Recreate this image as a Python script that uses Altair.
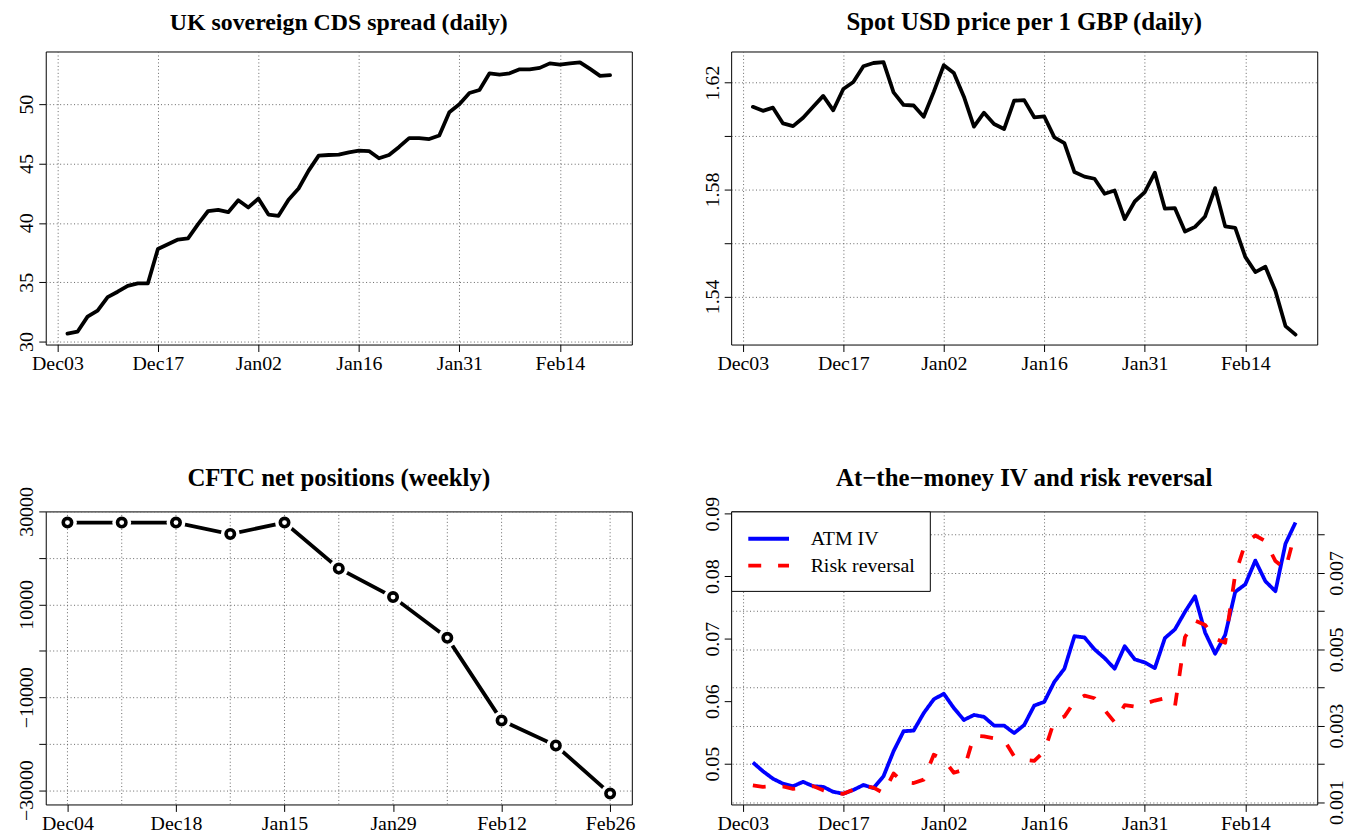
import altair as alt
import pandas as pd

# ---------------- data ----------------
daily_ticks = [0, 10, 20, 30, 40, 50]
daily_tick_labels = ["Dec03", "Dec17", "Jan02", "Jan16", "Jan31", "Feb14"]
weekly_ticks = [0, 2, 4, 6, 8, 10]
weekly_tick_labels = ["Dec04", "Dec18", "Jan15", "Jan29", "Feb12", "Feb26"]

cds_spread = [30.67, 30.83, 32.1, 32.6, 33.75, 34.2, 34.7, 34.9, 34.9, 37.8,
              38.2, 38.6, 38.7, 39.9, 41.0, 41.1, 40.9, 41.9, 41.3, 42.05,
              40.7, 40.6, 41.95, 42.9, 44.4, 45.67, 45.72, 45.75, 45.94, 46.08,
              46.05, 45.44, 45.72, 46.4, 47.14, 47.14, 47.06, 47.36, 49.33, 50.0,
              50.94, 51.2, 52.6, 52.5, 52.6, 52.94, 52.94, 53.06, 53.44, 53.33,
              53.44, 53.53, 52.97, 52.39, 52.44]

gbp_usd = [1.6109, 1.6094, 1.6106, 1.6047, 1.6037, 1.6068, 1.6109, 1.6150, 1.6096, 1.6176,
           1.6202, 1.6261, 1.6273, 1.6276, 1.6163, 1.6116, 1.6114, 1.6072, 1.6165, 1.6265,
           1.6236, 1.6147, 1.6035, 1.6087, 1.6045, 1.6026, 1.6132, 1.6134, 1.6070, 1.6073,
           1.5995, 1.5973, 1.5865, 1.5848, 1.5840, 1.5784, 1.5796, 1.5689, 1.5755, 1.5790,
           1.5863, 1.5728, 1.5730, 1.5643, 1.5660, 1.5699, 1.5805, 1.5662, 1.5656, 1.5548,
           1.5491, 1.5511, 1.5420, 1.5289, 1.5257]

cftc_net = [27600, 27600, 27600, 25140, 27600, 17710, 11560, 2780, -14990, -20400, -30750]

atm_iv = [0.0502, 0.0488, 0.0476, 0.0468, 0.0464, 0.0471, 0.0464, 0.0463, 0.0455, 0.0452,
          0.0458, 0.0466, 0.0461, 0.0480, 0.0520, 0.0552, 0.0553, 0.0581, 0.0603, 0.0612,
          0.0589, 0.0570, 0.0578, 0.0575, 0.0561, 0.0561, 0.0549, 0.0562, 0.0593, 0.0599,
          0.0631, 0.0652, 0.0704, 0.0702, 0.0683, 0.0669, 0.0652, 0.0688, 0.0667, 0.0662,
          0.0653, 0.0701, 0.0715, 0.0743, 0.0768, 0.0710, 0.0676, 0.0706, 0.0775, 0.0787,
          0.0825, 0.0792, 0.0776, 0.0852, 0.0886]

risk_reversal = [0.00144, 0.00140, 0.00142, 0.00141, 0.00135, 0.00137, 0.00142, 0.00131, 0.00124, 0.00122,
                 0.00133, 0.00142, 0.00138, 0.00124, 0.00175, 0.00152, 0.00150, 0.00159, 0.00224, 0.00211,
                 0.00177, 0.00185, 0.00274, 0.00272, 0.00267, 0.00263, 0.00220, 0.00211, 0.00208, 0.00233,
                 0.00313, 0.00324, 0.00363, 0.00379, 0.00372, 0.00341, 0.00309, 0.00354, 0.00350, 0.00358,
                 0.00366, 0.00372, 0.00350, 0.00532, 0.00575, 0.00564, 0.00528, 0.00517, 0.00697, 0.00777,
                 0.00798, 0.00783, 0.00731, 0.00710, 0.00809]

series_names = ["ATM IV", "Risk reversal"]
series_colors = ["#0000ff", "#ff0000"]

cds_ticks = [30, 35, 40, 45, 50]
fx_ticks = [1.54, 1.56, 1.58, 1.60, 1.62]
cftc_ticks = [-30000, -20000, -10000, 0, 10000, 20000, 30000]
iv_ticks = [0.05, 0.06, 0.07, 0.08, 0.09]
rr_ticks = [0.001, 0.002, 0.003, 0.004, 0.005, 0.006, 0.007, 0.008]

daily_idx = list(range(1, len(cds_spread) + 1))
weekly_idx = list(range(len(cftc_net)))

# ---------------- styling ----------------
W, H = 590, 295
FONT = "Liberation Serif"
GRID_DASH = [1, 2.5]
GRID_COLOR = "#666666"
LW = 3.8


def label_expr(labels, step):
    arr = "[" + ",".join("'%s'" % s for s in labels) + "]"
    return "%s[round(datum.value/%d)]" % (arr, step)


daily_expr = label_expr(daily_tick_labels, daily_ticks[1] - daily_ticks[0])
weekly_expr = label_expr(weekly_tick_labels, weekly_ticks[1] - weekly_ticks[0])

x_daily = alt.Scale(domain=[-1.16, 57.16], nice=False, zero=False)
x_weekly = alt.Scale(domain=[-0.4, 10.4], nice=False, zero=False)


def left_axis(values, expr=None, fmt=None, grid=True):
    kw = dict(values=values, orient="left", labelAngle=270, labelAlign="center",
              labelBaseline="bottom", grid=grid)
    if expr is not None:
        kw["labelExpr"] = expr
    if fmt is not None:
        kw["format"] = fmt
    return alt.Axis(**kw)


def title(text, offset, size=24):
    return alt.TitleParams(text=text, font=FONT, fontSize=size, fontWeight="bold",
                           color="black", offset=offset, anchor="middle", frame="group")


# Panel 1: CDS spread
df_cds = pd.DataFrame({"idx": daily_idx, "v": cds_spread})
p1 = alt.Chart(df_cds, title=title("UK sovereign CDS spread (daily)", 17)).mark_line(
    color="black", strokeWidth=LW, strokeJoin="round", strokeCap="round"
).encode(
    x=alt.X("idx:Q", scale=x_daily, title=None,
            axis=alt.Axis(values=daily_ticks, labelExpr=daily_expr, grid=True)),
    y=alt.Y("v:Q", scale=alt.Scale(domain=[29.75, 54.44], nice=False, zero=False), title=None,
            axis=left_axis(cds_ticks, fmt="d")),
).properties(width=W, height=H)

# Panel 2: GBPUSD
df_fx = pd.DataFrame({"idx": daily_idx, "v": gbp_usd})
p2 = alt.Chart(df_fx, title=title("Spot USD price per 1 GBP (daily)", 17, 25)).mark_line(
    color="black", strokeWidth=LW, strokeJoin="round", strokeCap="round"
).encode(
    x=alt.X("idx:Q", scale=x_daily, title=None,
            axis=alt.Axis(values=daily_ticks, labelExpr=daily_expr, grid=True)),
    y=alt.Y("v:Q", scale=alt.Scale(domain=[1.522, 1.6316], nice=False, zero=False), title=None,
            axis=left_axis(fx_ticks,
                           expr="round(datum.value*100) % 4 == 2 ? format(datum.value, '.2f') : ''")),
).properties(width=W, height=H)

# Panel 3: CFTC
df_cftc = pd.DataFrame({"idx": weekly_idx, "v": cftc_net})
x3 = alt.X("idx:Q", scale=x_weekly, title=None,
           axis=alt.Axis(values=weekly_ticks, labelExpr=weekly_expr, grid=False))
y3 = alt.Y("v:Q", scale=alt.Scale(domain=[-33084, 30000], nice=False, zero=False), title=None,
           axis=left_axis(cftc_ticks,
                          expr="abs(datum.value) % 20000 == 10000 ? format(datum.value, 'd') : ''"))
base3 = alt.Chart(df_cftc)
line3 = base3.mark_line(color="black", strokeWidth=LW).encode(x=x3, y=y3)
mask3 = base3.mark_point(shape="circle", filled=True, color="white", opacity=1, size=360).encode(x=x3, y=y3)
vgrid3 = base3.mark_rule(color=GRID_COLOR, strokeDash=GRID_DASH, strokeWidth=1).encode(x=x3)
ring3 = base3.mark_point(shape="circle", filled=False, stroke="black", fill="white", fillOpacity=1,
                         strokeWidth=3.6, size=72, opacity=1).encode(x=x3, y=y3)
p3 = alt.layer(line3, mask3, vgrid3, ring3, title=title("CFTC net positions (weekly)", -4, 25)).properties(
    width=W, height=H)

# Panel 4: ATM IV and risk reversal
df_iv = pd.DataFrame({"idx": daily_idx, "v": atm_iv, "series": series_names[0]})
df_rr = pd.DataFrame({"idx": daily_idx, "v": risk_reversal, "series": series_names[1]})
leg = alt.Legend(title=None, orient="top-left", offset=0, strokeColor="black", fillColor="white",
                 padding=15, labelFont=FONT, labelFontSize=20, labelColor="black",
                 symbolType="M-1,0H3", symbolSize=420, symbolStrokeWidth=LW, labelOffset=40,
                 rowPadding=4, cornerRadius=0)
color4 = alt.Color("series:N", scale=alt.Scale(domain=series_names, range=series_colors), legend=leg)
dash4 = alt.StrokeDash("series:N", scale=alt.Scale(domain=series_names, range=[[1, 0], [13, 17]]),
                       legend=leg)
x4 = alt.X("idx:Q", scale=x_daily, title=None,
           axis=alt.Axis(values=daily_ticks, labelExpr=daily_expr, grid=True))
iv_line = alt.Chart(df_iv).mark_line(strokeWidth=LW, strokeJoin="round").encode(
    x=x4,
    y=alt.Y("v:Q", scale=alt.Scale(domain=[0.04348, 0.09037], nice=False, zero=False), title=None,
            axis=left_axis(iv_ticks, fmt=".2f", grid=False)),
    color=color4, strokeDash=dash4,
)
rr_line = alt.Chart(df_rr).mark_line(strokeWidth=LW, strokeJoin="round", strokeCap="butt").encode(
    x=x4,
    y=alt.Y("v:Q", scale=alt.Scale(domain=[0.00094, 0.00861], nice=False, zero=False), title=None,
            axis=alt.Axis(values=rr_ticks, orient="right", labelAngle=270, labelAlign="center",
                          labelBaseline="top", grid=True,
                          labelExpr="round(datum.value*1000) % 2 == 1 ? format(datum.value, '.3f') : ''")),
    color=color4, strokeDash=dash4,
)
p4 = alt.layer(iv_line, rr_line,
               title=title("At\u2212the\u2212money IV and risk reversal", 5, 25)).resolve_scale(
    y="independent").properties(width=W, height=H)

chart = alt.concat(p1, p2, p3, p4, columns=2, spacing={"row": 168, "column": 100}, bounds="flush").resolve_legend(
    color="independent", strokeDash="independent"
).properties(
    padding={"left": 8, "top": -2, "right": 5, "bottom": 5},
    background="white",
).configure_view(
    stroke="black", strokeWidth=1, fill="white"
).configure_axis(
    labelFont=FONT, labelFontSize=20, labelColor="black", labelPadding=2,
    labelFlush=False, labelOverlap=False,
    tickColor="black", tickSize=7, tickWidth=1, domain=False,
    gridColor=GRID_COLOR, gridDash=GRID_DASH, gridWidth=1, gridOpacity=1,
)

chart.save("out.html", embed_options={"renderer": "svg", "actions": False})
